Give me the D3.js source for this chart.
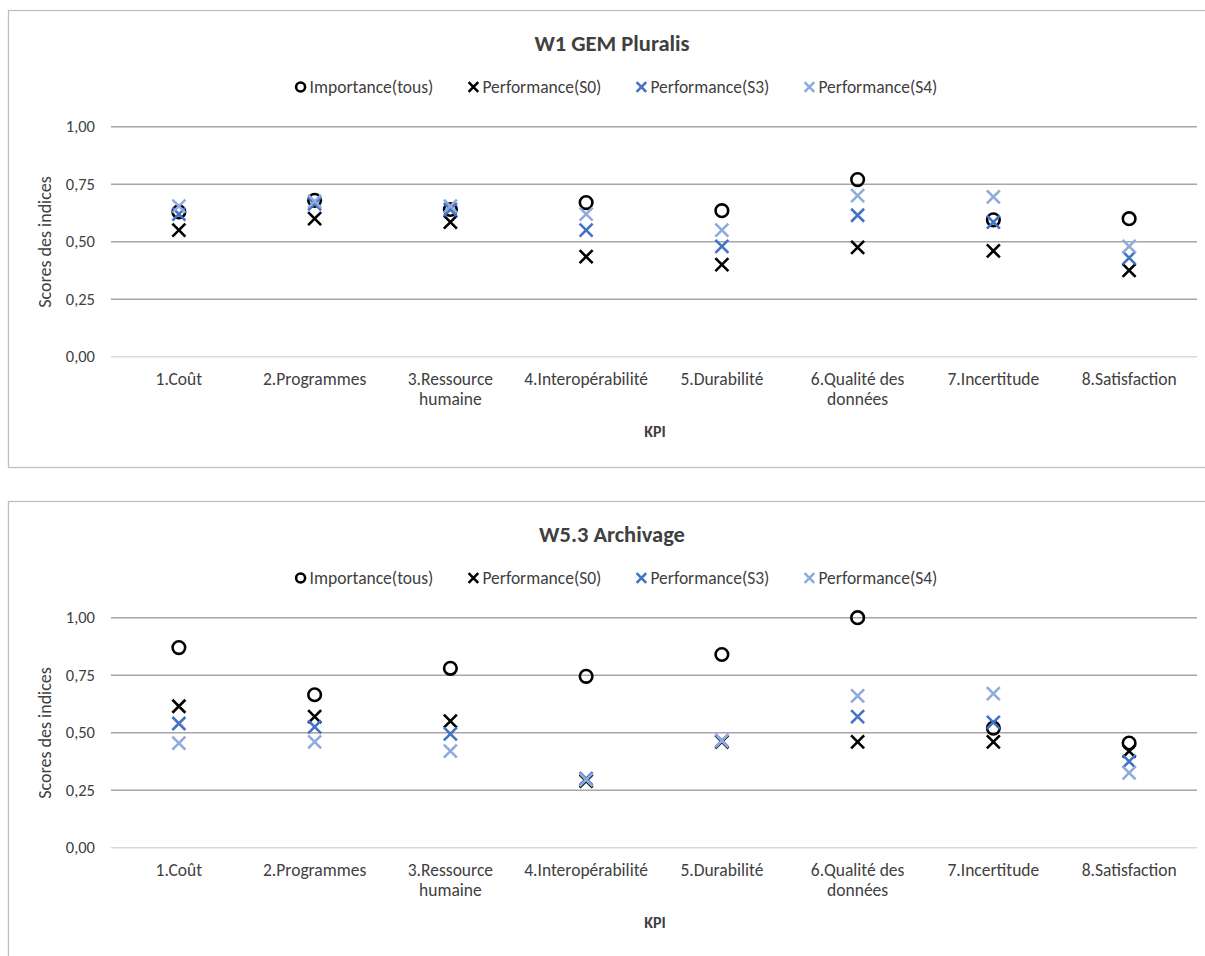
<!DOCTYPE html>
<html>
<head>
  <meta charset="utf-8">
  <title>KPI scores</title>
  <script src="https://cdn.jsdelivr.net/npm/d3@7"></script>
  <style>
    body { margin: 0; background: #fff; }
    text { font-family: Carlito, Lato, "Noto Sans", sans-serif; fill: #404040; }
  </style>
</head>
<body>
<script>
// categories and tick values
var categories = ["1.Coût", "2.Programmes", "3.Ressource humaine", "4.Interopérabilité",
                  "5.Durabilité", "6.Qualité des données", "7.Incertitude", "8.Satisfaction"];
var yTicks = [0, 0.25, 0.5, 0.75, 1];
var seriesNames = ["Importance(tous)", "Performance(S0)", "Performance(S3)", "Performance(S4)"];

// W1 GEM Pluralis
var w1Importance = [0.63, 0.68, 0.64, 0.67, 0.635, 0.77, 0.595, 0.60];
var w1S0 = [0.55, 0.60, 0.585, 0.435, 0.40, 0.475, 0.46, 0.375];
var w1S3 = [0.62, 0.665, 0.64, 0.55, 0.48, 0.615, 0.585, 0.43];
var w1S4 = [0.655, 0.675, 0.655, 0.62, 0.55, 0.70, 0.695, 0.48];

// W5.3 Archivage
var w5Importance = [0.87, 0.665, 0.78, 0.745, 0.84, 1.00, 0.52, 0.455];
var w5S0 = [0.615, 0.57, 0.55, 0.29, 0.46, 0.46, 0.46, 0.42];
var w5S3 = [0.54, 0.525, 0.495, 0.30, 0.465, 0.57, 0.545, 0.375];
var w5S4 = [0.455, 0.46, 0.42, 0.295, 0.465, 0.66, 0.67, 0.325];

var colors = ["#000000", "#000000", "#4472C4", "#8FAADC"];
var shapes = ["circle", "x", "x", "x"];

var W = 1205, H = 956;
var svg = d3.select("body").append("svg")
  .attr("width", W)
  .attr("height", H);

var xScale = d3.scaleBand()
  .domain(categories)
  .range([111, 1197]);

function drawMarker(g, shape, color, x, y, s) {
  if (shape == "circle") {
    g.append("circle")
      .attr("cx", x).attr("cy", y).attr("r", s * 0.9)
      .attr("fill", "none")
      .attr("stroke", color)
      .attr("stroke-width", 2.6);
  } else {
    g.append("path")
      .attr("d", "M" + (x - s) + "," + (y - s) + "L" + (x + s) + "," + (y + s) +
                 "M" + (x - s) + "," + (y + s) + "L" + (x + s) + "," + (y - s))
      .attr("stroke", color)
      .attr("stroke-width", 2.6)
      .attr("fill", "none");
  }
}

function drawChart(top, title, series) {
  var g = svg.append("g").attr("transform", "translate(0," + top + ")");

  // frame
  g.append("rect")
    .attr("x", 8.5).attr("y", 10.5)
    .attr("width", 1220).attr("height", 457)
    .attr("fill", "#fff")
    .attr("stroke", "#BFBFBF")
    .attr("stroke-width", 1.3);

  var yScale = d3.scaleLinear()
    .domain([0, 1])
    .range([356.7, 126.7]);

  // gridlines
  g.selectAll(".grid")
    .data(yTicks)
    .enter()
    .append("line")
    .attr("x1", 111).attr("x2", 1197)
    .attr("y1", function(d) { return yScale(d); })
    .attr("y2", function(d) { return yScale(d); })
    .attr("stroke", function(d) { return d == 0 ? "#D9D9D9" : "#A6A6A6"; })
    .attr("stroke-width", 1.6);

  // y axis (labels only)
  var yAxis = d3.axisLeft(yScale)
    .tickValues(yTicks)
    .tickSize(0)
    .tickPadding(0)
    .tickFormat(function(d) { return d3.format(".2f")(d).replace(".", ","); });
  var ya = g.append("g")
    .attr("transform", "translate(95,0)")
    .call(yAxis);
  ya.select(".domain").remove();
  ya.attr("font-size", null).attr("font-family", null);
  ya.selectAll("text")
    .style("font-size", "16.5px")
    .attr("fill", "#404040");

  // x axis (labels only, wrapped)
  var xAxis = d3.axisBottom(xScale).tickSize(0).tickPadding(0);
  var xa = g.append("g")
    .call(xAxis);
  xa.select(".domain").remove();
  xa.attr("font-size", null).attr("font-family", null);
  xa.selectAll("text")
    .style("font-size", "17.5px")
    .attr("fill", "#404040")
    .each(function(d) {
      var t = d3.select(this);
      var words = d.split(" ");
      t.text(null).attr("y", 0).attr("dy", null);
      var lines = [];
      var line = [];
      var tmp = t.append("tspan");
      words.forEach(function(w) {
        line.push(w);
        tmp.text(line.join(" "));
        if (tmp.node().getComputedTextLength() > 128 && line.length > 1) {
          line.pop();
          lines.push(line.join(" "));
          line = [w];
        }
      });
      lines.push(line.join(" "));
      tmp.remove();
      lines.forEach(function(l, i) {
        t.append("tspan")
          .attr("x", 0)
          .attr("y", 385 + i * 20)
          .text(l);
      });
    });

  // title
  g.append("text")
    .attr("x", 612).attr("y", 51)
    .attr("text-anchor", "middle")
    .style("font-size", "22.5px")
    .attr("font-weight", "bold")
    .attr("fill", "#000")
    .text(title);

  // axis titles
  g.append("text")
    .attr("x", 655).attr("y", 437)
    .attr("text-anchor", "middle")
    .style("font-size", "16px")
    .attr("font-weight", "bold")
    .attr("fill", "#000")
    .text("KPI");

  g.append("text")
    .attr("transform", "translate(51,242) rotate(-90)")
    .attr("text-anchor", "middle")
    .style("font-size", "18px")
    .attr("fill", "#000")
    .text("Scores des indices");

  // legend
  var lg = g.append("g");
  var x = 0;
  var gap = 40;
  seriesNames.forEach(function(name, i) {
    var it = lg.append("g");
    drawMarker(it, shapes[i], colors[i], 0, 0, i == 0 ? 5 : 4.8);
    var tx = it.append("text")
      .attr("x", 9).attr("y", 6)
      .style("font-size", "17.5px")
      .attr("fill", "#404040")
      .text(name);
    var wdt = 9 + tx.node().getComputedTextLength();
    it.attr("transform", "translate(" + x + ",0)");
    x += wdt + gap;
  });
  var total = x - gap + 6;
  lg.attr("transform", "translate(" + (616 - total / 2 + 6) + ",87)");

  // points
  series.forEach(function(vals, si) {
    var sg = g.append("g");
    vals.forEach(function(v, i) {
      var cx = xScale(categories[i]) + xScale.bandwidth() / 2;
      drawMarker(sg, shapes[si], colors[si], cx, yScale(v), si == 0 ? 7 : 6.5);
    });
  });
}

drawChart(0, "W1 GEM Pluralis", [w1Importance, w1S0, w1S3, w1S4]);
drawChart(491, "W5.3 Archivage", [w5Importance, w5S0, w5S3, w5S4]);
</script>
</body>
</html>
